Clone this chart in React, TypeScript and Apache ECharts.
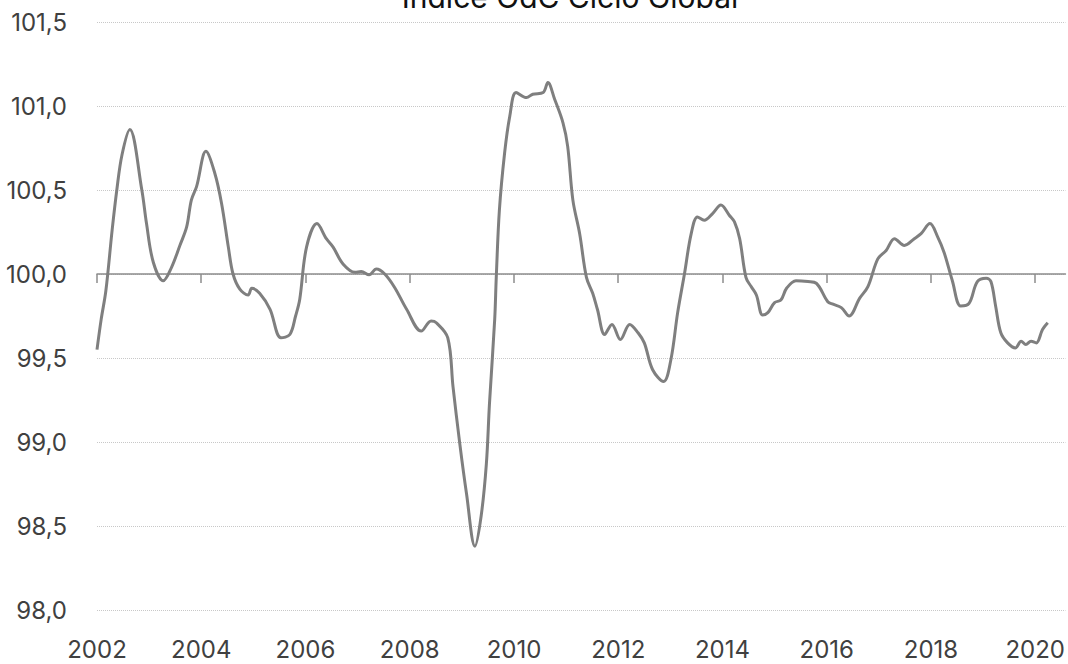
import React, { useEffect, useRef } from "react";
import * as echarts from "echarts";

const TITLE = "Índice OdC Ciclo Global";

const years: number[] = [
  2002.0, 2002.08, 2002.17, 2002.29, 2002.38, 2002.48, 2002.63, 2002.86, 2002.95, 2003.08,
  2003.27, 2003.43, 2003.59, 2003.72, 2003.81, 2003.91, 2004.09, 2004.26, 2004.39, 2004.52,
  2004.61, 2004.74, 2004.9, 2004.97, 2005.12, 2005.32, 2005.53, 2005.7, 2005.81, 2005.89,
  2006.02, 2006.22, 2006.4, 2006.53, 2006.72, 2006.95, 2007.07, 2007.22, 2007.36, 2007.52,
  2007.71, 2007.94, 2008.22, 2008.41, 2008.51, 2008.73, 2008.83, 2008.96, 2009.09, 2009.25,
  2009.37, 2009.47, 2009.53, 2009.63, 2009.66, 2009.72, 2009.82, 2009.92, 2010.04, 2010.24,
  2010.36, 2010.56, 2010.65, 2010.78, 2010.94, 2011.03, 2011.13, 2011.26, 2011.39, 2011.51,
  2011.6, 2011.74, 2011.88, 2012.04, 2012.22, 2012.38, 2012.5, 2012.66, 2012.87, 2013.01,
  2013.14, 2013.27, 2013.4, 2013.52, 2013.65, 2013.81, 2013.97, 2014.13, 2014.23, 2014.33,
  2014.45, 2014.55, 2014.65, 2014.77, 2014.87, 2015.0, 2015.12, 2015.23, 2015.41, 2015.64,
  2015.8, 2016.02, 2016.12, 2016.28, 2016.43, 2016.63, 2016.79, 2016.98, 2017.14, 2017.3,
  2017.49, 2017.68, 2017.81, 2017.98, 2018.13, 2018.25, 2018.41, 2018.57, 2018.73, 2018.89,
  2019.06, 2019.15, 2019.24, 2019.34, 2019.47, 2019.62, 2019.73, 2019.82, 2019.92, 2020.02,
  2020.14, 2020.24,
];

const values: number[] = [
  99.55, 99.73, 99.9, 100.26, 100.5, 100.71, 100.86, 100.5, 100.3, 100.07,
  99.96, 100.04, 100.17, 100.28, 100.44, 100.52, 100.73, 100.6, 100.42, 100.16,
  100.0, 99.91, 99.875, 99.915, 99.885, 99.79, 99.62, 99.64, 99.75, 99.85,
  100.16, 100.3, 100.21, 100.16, 100.06, 100.01, 100.015, 99.995, 100.03, 100.0,
  99.92, 99.79, 99.66, 99.72, 99.71, 99.62, 99.33, 98.99, 98.69, 98.38,
  98.56, 98.87, 99.23, 99.73, 99.98, 100.38, 100.72, 100.94, 101.08, 101.05,
  101.07, 101.08, 101.14, 101.04, 100.9, 100.76, 100.44, 100.24, 99.98, 99.885,
  99.79, 99.64, 99.7, 99.61, 99.7, 99.65, 99.59, 99.43, 99.36, 99.49,
  99.77, 100.0, 100.24, 100.34, 100.32, 100.36, 100.41, 100.35, 100.31, 100.21,
  99.98, 99.925, 99.875, 99.756, 99.77, 99.83, 99.845, 99.915, 99.96, 99.955,
  99.945, 99.835, 99.82, 99.8, 99.75, 99.855, 99.925, 100.09, 100.14, 100.21,
  100.17, 100.21, 100.24, 100.3, 100.22, 100.13, 99.96, 99.81, 99.825, 99.955,
  99.975, 99.955, 99.81, 99.65, 99.59, 99.56, 99.6, 99.58, 99.6, 99.59,
  99.67, 99.71,
];

const xTicks: number[] = [2002, 2004, 2006, 2008, 2010, 2012, 2014, 2016, 2018, 2020];
const yMin = 98;
const yMax = 101.5;
const yStep = 0.5;
const baseline = 100;
const xMin = 2002;
const xMax = 2020.58;

export default function App() {
  const ref = useRef<HTMLDivElement>(null);

  useEffect(() => {
    if (!ref.current) return;
    const chart = echarts.init(ref.current, undefined, { renderer: "svg" });
    const gridTop = 22;
    const gridBottom = 54;
    const gridHeight = 664 - gridTop - gridBottom;
    const baseOffset = -gridHeight * (baseline - yMin) / (yMax - yMin);
    const font = "Inter, 'Open Sans', sans-serif";

    chart.setOption({
      animation: false,
      backgroundColor: "#ffffff",
      title: {
        text: TITLE,
        left: 565,
        textAlign: "center",
        top: -23,
        textStyle: { fontFamily: font, fontSize: 30, fontWeight: "normal", color: "#111111" },
      },
      grid: { left: 97, right: 2, top: gridTop, bottom: gridBottom, containLabel: false },
      xAxis: [
        {
          type: "value",
          min: xMin,
          max: xMax,
          interval: 2,
          position: "bottom",
          axisLine: { show: false, onZero: false },
          axisTick: { show: false },
          splitLine: { show: false },
          axisLabel: {
            customValues: xTicks,
            margin: 27,
            fontFamily: font,
            fontSize: 24,
            color: "#404040",
            formatter: (v: number) => String(Math.round(v)),
          },
        },
        {
          type: "value",
          min: xMin,
          max: xMax,
          interval: 2,
          position: "bottom",
          offset: baseOffset,
          axisLine: { show: true, onZero: false, lineStyle: { color: "#8c8c8c", width: 1.5 } },
          axisTick: { show: true, customValues: xTicks, length: 9, lineStyle: { color: "#8c8c8c", width: 1.5 } },
          axisLabel: { show: false },
          splitLine: { show: false },
        },
      ],
      yAxis: {
        type: "value",
        min: yMin,
        max: yMax,
        interval: yStep,
        axisLine: { show: false },
        axisTick: { show: false },
        axisLabel: {
          margin: 30,
          fontFamily: font,
          fontSize: 24,
          color: "#404040",
          formatter: (v: number) => v.toFixed(1).replace(".", ","),
        },
        splitLine: { show: true, lineStyle: { color: "#c8c8c8", type: "dotted", width: 1 } },
      },
      series: [
        {
          type: "line",
          xAxisIndex: 0,
          data: years.map((y, i) => [y, values[i]]),
          showSymbol: false,
          smooth: 0.35,
          lineStyle: { color: "#7f7f7f", width: 3 },
          z: 3,
        },
      ],
    });
    return () => chart.dispose();
  }, []);

  return (
    <div
      ref={ref}
      style={{ position: "absolute", left: 0, top: 0, width: 1068, height: 664 }}
    />
  );
}
